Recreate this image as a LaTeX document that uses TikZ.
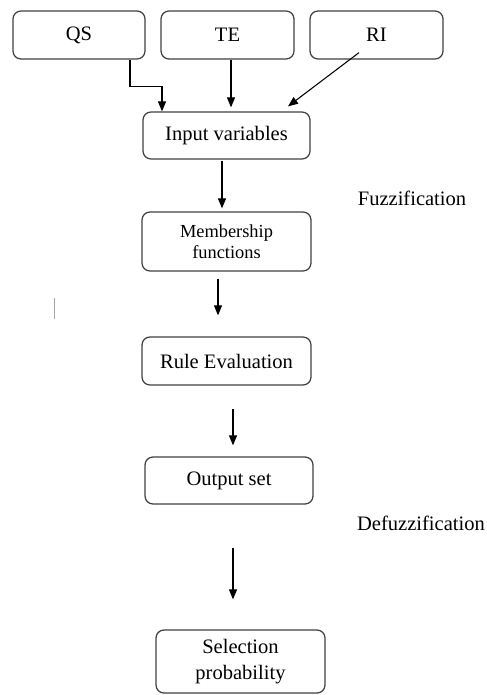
\documentclass[tikz,border=0pt]{standalone}
\usepackage{fontspec}
\setmainfont{Liberation Serif}
\usetikzlibrary{arrows.meta,calc}
\definecolor{boxline}{HTML}{404040}
\tikzset{
  box/.style={draw=boxline, line width=0.95pt, rounded corners=6pt, align=center,
    inner sep=0pt, font=\fontsize{15.4}{17}\selectfont},
  arr/.style={draw=black, line width=0.8pt, -{Triangle[length=7.5pt,width=6pt]}},
  lbl/.style={font=\fontsize{15.4}{17}\selectfont, inner sep=0pt}
}
\begin{document}
\begin{tikzpicture}[x=0.75pt,y=-0.75pt]
\useasboundingbox (0,0) rectangle (486,695);
\node[box, minimum width=132*0.75pt, minimum height=48*0.75pt] (QS) at (79,35) {QS};
\node[box, minimum width=133*0.75pt, minimum height=48*0.75pt] (TE) at (227.5,35) {TE};
\node[box, minimum width=133*0.75pt, minimum height=48*0.75pt] (RI) at (376.5,35) {RI};
\node[box, minimum width=167*0.75pt, minimum height=47*0.75pt] (Input) at (226.5,135.5) {Input variables};
\node[box, minimum width=169*0.75pt, minimum height=59*0.75pt, font=\fontsize{13.8}{16}\selectfont] (Memb) at (226.5,241.5) {Membership\\functions};
\node[box, minimum width=169*0.75pt, minimum height=48*0.75pt] (Rule) at (226.5,361) {Rule Evaluation};
\node[box, minimum width=168*0.75pt, minimum height=47*0.75pt] (Out) at (229,480.5) {Output set};
\node[box, minimum width=169*0.75pt, minimum height=63*0.75pt, font=\fontsize{15.4}{19}\selectfont] (Sel) at (240.5,661.5) {Selection\\probability};
\node[lbl] (Fuzz) at (412,198) {Fuzzification};
\node[lbl] (Defuzz) at (421,523) {Defuzzification};
% connectors
\draw[arr] ($(QS.south)+(51,0)$) -- ++(0,27) -| ($(Input.north)+(-64.5,0)$);
\draw[arr] ($(TE.south)+(3.5,0)$) -- ($(Input.north)+(4.5,-4)$);
\draw[arr] ($(RI.south)+(-17.5,-7)$) -- ($(Input.north)+(61.5,-5)$);
\draw[arr] ($(Input.south)+(-4.5,1)$) -- ($(Memb.north)+(-4.5,-3)$);
\draw[arr] ($(Memb.south)+(-8.5,7)$) -- ($(Rule.north)+(-8.5,-21)$);
\draw[arr] ($(Rule.south)+(6.5,23)$) -- ($(Out.north)+(4,-11)$);
\draw[arr] ($(Out.south)+(4,43)$) -- ($(Sel.north)+(-7.5,-30)$);
% stray mark
\coordinate (m1) at (54,298);
\coordinate (m2) at (54,319);
\draw[gray!70, line width=0.6pt] (m1) -- (m2);
\end{tikzpicture}
\end{document}
